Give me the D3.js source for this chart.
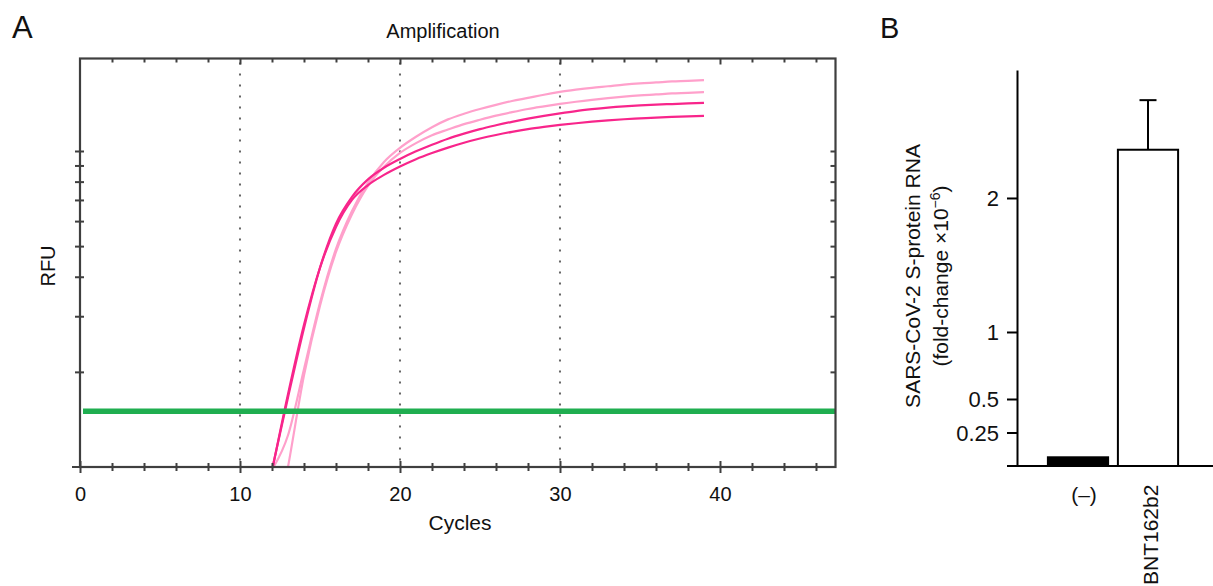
<!DOCTYPE html>
<html>
<head>
<meta charset="utf-8">
<script src="https://cdn.jsdelivr.net/npm/d3@7"></script>
<style>
body { margin: 0; background: #fff; }
text { font-family: "Liberation Sans", Arial, sans-serif; fill: #111; }
</style>
</head>
<body>
<div id="chart_box"></div>
<script>
// panel A: amplification curves (RFU, log axis, unlabeled)
var cycles = [12, 13, 14, 15, 16, 17, 18, 19, 20, 21, 22, 23, 24, 25, 26, 27, 28, 29, 30, 31, 32, 33, 34, 35, 36, 37, 38, 39];
var darkA = [98, 166, 275, 427, 589, 716, 813, 885, 944, 998, 1047, 1094, 1135, 1173, 1206, 1237, 1266, 1292, 1316, 1338, 1356, 1372, 1385, 1395, 1402, 1408, 1414, 1419];
var darkB = [97, 170, 282, 427, 575, 700, 780, 840, 893, 942, 985, 1025, 1062, 1095, 1124, 1150, 1173, 1192, 1209, 1224, 1238, 1250, 1260, 1268, 1276, 1282, 1287, 1291];
var lightA = [98, 126, 204, 331, 490, 646, 794, 923, 1023, 1109, 1189, 1259, 1312, 1358, 1400, 1439, 1472, 1507, 1538, 1563, 1585, 1603, 1622, 1637, 1648, 1660, 1667, 1677];
var lightB = [55, 100, 195, 324, 479, 631, 776, 891, 986, 1059, 1122, 1169, 1216, 1256, 1294, 1327, 1358, 1384, 1409, 1432, 1452, 1469, 1486, 1500, 1510, 1521, 1528, 1537];
var threshold = 150;
var cycleLabels = [0, 10, 20, 30, 40];
var gridCycles = [10, 20, 30];
var rfuTicks = [200, 300, 400, 500, 600, 700, 800, 900, 1000];

// panel B: bar chart
var groups = ["(–)", "BNT162b2"];
var foldChange = [0.065, 2.36];
var foldErr = [0, 0.37];
var foldTicks = [0.25, 0.5, 1, 2];

var pink_dark = "#f8258b";
var pink_light = "#ffa0cb";
var green = "#1fae50";
var frame_color = "#3f3f3f";

var svg = d3.select("#chart_box").append("svg")
    .attr("width", 1213)
    .attr("height", 586);

// ---------- panel A ----------
var xA = d3.scaleLinear().domain([0, 47.22]).range([80, 835.5]);
var yA = d3.scaleLog().domain([100, 1962]).range([467, 58.5]);

svg.append("clipPath").attr("id", "clipA")
    .append("rect")
    .attr("x", xA.range()[0]).attr("y", yA.range()[1])
    .attr("width", xA.range()[1] - xA.range()[0])
    .attr("height", yA.range()[0] - yA.range()[1]);

var gA = svg.append("g");

// dotted grid lines
gA.selectAll(".grid")
    .data(gridCycles)
    .enter().append("line")
    .attr("x1", function (d) { return xA(d); })
    .attr("x2", function (d) { return xA(d); })
    .attr("y1", yA.range()[1] + 4)
    .attr("y2", yA.range()[0])
    .style("stroke", "#666")
    .style("stroke-width", 2)
    .style("stroke-dasharray", "2,9");

var line = d3.line()
    .x(function (d) { return xA(d[0]); })
    .y(function (d) { return yA(d[1]); })
    .curve(d3.curveMonotoneX);

var series = [
    { v: lightA, c: pink_light },
    { v: lightB, c: pink_light },
    { v: darkB, c: pink_dark },
    { v: darkA, c: pink_dark }
];

gA.append("g").attr("clip-path", "url(#clipA)")
    .selectAll("path")
    .data(series)
    .enter().append("path")
    .attr("d", function (s) {
        return line(cycles.map(function (c, i) { return [c, s.v[i]]; }));
    })
    .style("fill", "none")
    .style("stroke", function (s) { return s.c; })
    .style("stroke-width", 2.2);

// threshold line
gA.append("line")
    .attr("x1", xA(0) + 3).attr("x2", xA.range()[1])
    .attr("y1", yA(threshold)).attr("y2", yA(threshold))
    .style("stroke", green)
    .style("stroke-width", 5.5);

// frame
gA.append("rect")
    .attr("x", xA.range()[0]).attr("y", yA.range()[1])
    .attr("width", xA.range()[1] - xA.range()[0])
    .attr("height", yA.range()[0] - yA.range()[1])
    .style("fill", "none")
    .style("stroke", frame_color)
    .style("stroke-width", 2.2);

gA.append("line")
    .attr("x1", 72).attr("x2", xA.range()[1])
    .attr("y1", yA.range()[0]).attr("y2", yA.range()[0])
    .style("stroke", frame_color).style("stroke-width", 2.2);

var evenTicks = d3.range(0, 47, 2);

// bottom axis, ticks cross the line
var axBottom = gA.append("g")
    .attr("transform", "translate(0," + yA.range()[0] + ")")
    .call(d3.axisBottom(xA).tickValues(evenTicks).tickSizeOuter(0)
        .tickFormat(function (d) { return cycleLabels.indexOf(d) >= 0 ? d : ""; }));
axBottom.select(".domain").remove();
axBottom.selectAll(".tick line")
    .attr("y1", function (d) { return d % 10 === 0 ? -6 : -4; })
    .attr("y2", function (d) { return d % 10 === 0 ? 6 : 4; })
    .style("stroke", frame_color).style("stroke-width", 2);
axBottom.selectAll(".tick text")
    .attr("y", 34).attr("dy", 0)
    .style("font-size", "20px").style("fill", "#111");

// top axis, ticks inward
var axTop = gA.append("g")
    .attr("transform", "translate(0," + yA.range()[1] + ")")
    .call(d3.axisBottom(xA).tickValues(evenTicks.slice(1)).tickSizeOuter(0).tickFormat(""));
axTop.select(".domain").remove();
axTop.selectAll(".tick line")
    .attr("y2", function (d) { return d % 10 === 0 ? 6 : 4; })
    .style("stroke", frame_color).style("stroke-width", 2);

// left axis, ticks cross the line
var axLeft = gA.append("g")
    .attr("transform", "translate(" + xA.range()[0] + ",0)")
    .call(d3.axisLeft(yA).tickValues(rfuTicks).tickSize(5).tickFormat(""));
axLeft.select(".domain").remove();
axLeft.selectAll(".tick line").attr("x1", 4)
    .style("stroke", frame_color).style("stroke-width", 2);

// right axis, ticks inward
var axRight = gA.append("g")
    .attr("transform", "translate(" + xA.range()[1] + ",0)")
    .call(d3.axisLeft(yA).tickValues(rfuTicks).tickSize(5).tickFormat(""));
axRight.select(".domain").remove();
axRight.selectAll(".tick line")
    .style("stroke", frame_color).style("stroke-width", 2);

svg.append("text").attr("x", 12).attr("y", 38)
    .style("font-size", "31px").text("A");
svg.append("text").attr("x", 443).attr("y", 38)
    .style("text-anchor", "middle").style("font-size", "20px").text("Amplification");
svg.append("text").attr("x", 460).attr("y", 530)
    .style("text-anchor", "middle").style("font-size", "21px").text("Cycles");
svg.append("text")
    .attr("transform", "translate(55,266) rotate(-90)")
    .style("text-anchor", "middle").style("font-size", "20px").text("RFU");

// ---------- panel B ----------
var yB = d3.scaleLinear().domain([0, 2.955]).range([466, 70]);
var xB = d3.scaleBand().domain(groups).range([1043, 1183])
    .paddingInner(0.14).paddingOuter(0.07);

var gB = svg.append("g");

gB.selectAll(".bar")
    .data(groups)
    .enter().append("rect")
    .attr("class", "bar")
    .attr("x", function (d) { return xB(d); })
    .attr("width", xB.bandwidth())
    .attr("y", function (d, i) { return yB(foldChange[i]); })
    .attr("height", function (d, i) { return yB(0) - yB(foldChange[i]); })
    .style("fill", function (d, i) { return i === 0 ? "#000" : "#fff"; })
    .style("stroke", "#000")
    .style("stroke-width", 2);

// error bars (upper only)
var errG = gB.selectAll(".err")
    .data(groups.filter(function (d, i) { return foldErr[i] > 0; }))
    .enter().append("g");
errG.append("line")
    .attr("x1", function (d) { return xB(d) + xB.bandwidth() / 2; })
    .attr("x2", function (d) { return xB(d) + xB.bandwidth() / 2; })
    .attr("y1", function (d) { var i = groups.indexOf(d); return yB(foldChange[i]); })
    .attr("y2", function (d) { var i = groups.indexOf(d); return yB(foldChange[i] + foldErr[i]); })
    .style("stroke", "#000").style("stroke-width", 2);
errG.append("line")
    .attr("x1", function (d) { return xB(d) + xB.bandwidth() / 2 - 8.5; })
    .attr("x2", function (d) { return xB(d) + xB.bandwidth() / 2 + 8.5; })
    .attr("y1", function (d) { var i = groups.indexOf(d); return yB(foldChange[i] + foldErr[i]); })
    .attr("y2", function (d) { var i = groups.indexOf(d); return yB(foldChange[i] + foldErr[i]); })
    .style("stroke", "#000").style("stroke-width", 2);

var axB = gB.append("g")
    .attr("transform", "translate(1017,0)")
    .call(d3.axisLeft(yB).tickValues(foldTicks).tickSize(10).tickSizeOuter(0).tickPadding(8)
        .tickFormat(function (d) { return d; }));
axB.select(".domain").style("stroke", "#000").style("stroke-width", 2);
axB.selectAll(".tick line").style("stroke", "#000").style("stroke-width", 2);
axB.selectAll(".tick text").attr("dy", "0.36em")
    .style("font-size", "22px").style("fill", "#111");

gB.append("line")
    .attr("x1", 1007).attr("x2", 1213)
    .attr("y1", yB(0)).attr("y2", yB(0))
    .style("stroke", "#000").style("stroke-width", 2);

gB.append("text")
    .attr("x", xB(groups[0]) + xB.bandwidth() / 2 + 6)
    .attr("y", 502)
    .style("text-anchor", "middle").style("font-size", "21px").text(groups[0]);
gB.append("text")
    .attr("transform", "translate(" + (xB(groups[1]) + xB.bandwidth() / 2 + 10) + ",585) rotate(-90)")
    .style("font-size", "21px").text(groups[1]);

svg.append("text").attr("x", 880).attr("y", 38)
    .style("font-size", "29px").text("B");

svg.append("text")
    .attr("transform", "translate(920,276) rotate(-90)")
    .style("text-anchor", "middle").style("font-size", "21px")
    .text("SARS-CoV-2 S-protein RNA");
var l2 = svg.append("text")
    .attr("transform", "translate(948,276) rotate(-90)")
    .style("text-anchor", "middle").style("font-size", "21px");
l2.append("tspan").text("(fold-change \u00d710");
l2.append("tspan").attr("dy", -8).style("font-size", "14px").text("\u22126");
l2.append("tspan").attr("dy", 8).text(")");
</script>
</body>
</html>
